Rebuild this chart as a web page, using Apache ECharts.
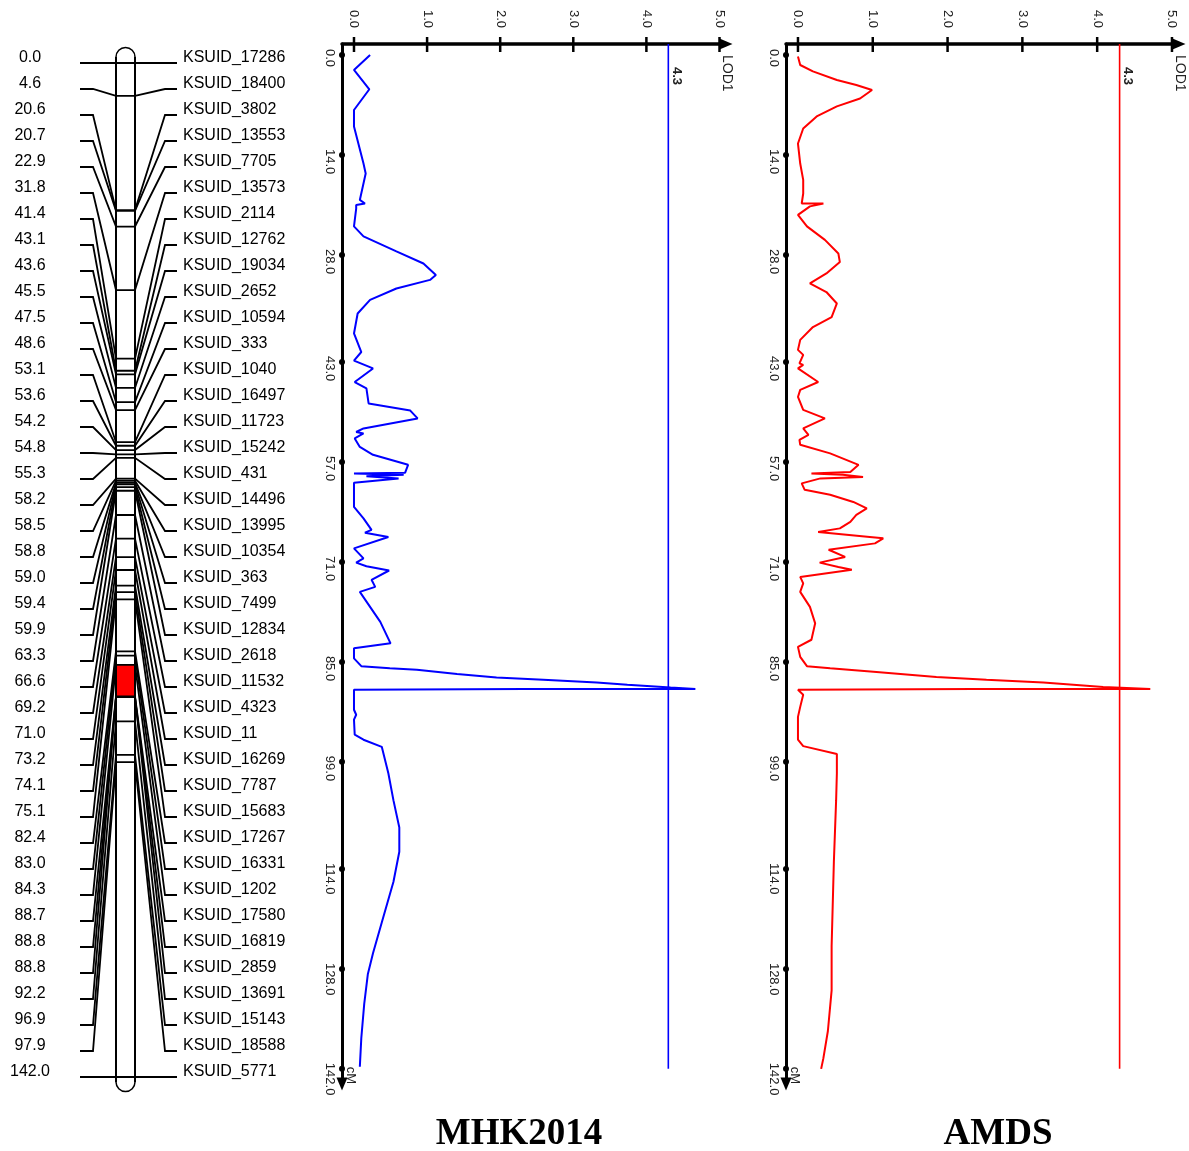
<!DOCTYPE html>
<html>
<head>
<meta charset="utf-8">
<script src="https://cdn.jsdelivr.net/npm/echarts@6/dist/echarts.min.js"></script>
<style>
html,body{margin:0;padding:0;background:#fff;}
#c{width:1189px;height:1151px;}
</style>
</head>
<body>
<div id="c"></div>
<script>
// ---------------- DATA ----------------
const markerNames = ['KSUID_17286','KSUID_18400','KSUID_3802','KSUID_13553','KSUID_7705','KSUID_13573','KSUID_2114','KSUID_12762','KSUID_19034','KSUID_2652','KSUID_10594','KSUID_333','KSUID_1040','KSUID_16497','KSUID_11723','KSUID_15242','KSUID_431','KSUID_14496','KSUID_13995','KSUID_10354','KSUID_363','KSUID_7499','KSUID_12834','KSUID_2618','KSUID_11532','KSUID_4323','KSUID_11','KSUID_16269','KSUID_7787','KSUID_15683','KSUID_17267','KSUID_16331','KSUID_1202','KSUID_17580','KSUID_16819','KSUID_2859','KSUID_13691','KSUID_15143','KSUID_18588','KSUID_5771'];
const markerPositions = [0.0,4.6,20.6,20.7,22.9,31.8,41.4,43.1,43.6,45.5,47.5,48.6,53.1,53.6,54.2,54.8,55.3,58.2,58.5,58.8,59.0,59.4,59.9,63.3,66.6,69.2,71.0,73.2,74.1,75.1,82.4,83.0,84.3,88.7,88.8,88.8,92.2,96.9,97.9,142.0];
const qtlInterval = [84.3, 88.7];
const cmTicks = [0,14,28,43,57,71,85,99,114,128,142];
const lodTicks = [0,1,2,3,4,5];
const thresholdLOD = 4.3;
const panelTitles = ['MHK2014','AMDS'];

const mhkCM = [0.0,2.1,4.8,7.7,10.0,15.2,16.6,20.3,20.8,21.0,21.5,24.0,25.4,27.5,29.2,30.8,31.5,32.7,34.3,36.2,39.0,41.6,42.8,43.9,45.8,46.7,48.8,49.8,50.9,52.3,52.8,53.0,53.7,54.9,56.0,57.4,58.5,58.6,58.8,59.0,59.3,59.9,63.3,64.9,66.5,66.9,67.5,69.1,70.5,71.1,71.6,72.2,73.5,74.5,75.2,79.4,82.4,83.1,84.5,85.6,85.9,86.1,86.7,87.2,87.5,87.9,88.2,88.6,88.8,88.8,88.9,91.7,92.4,93.1,95.2,95.9,96.9,100.6,104.4,108.2,111.6,115.8,121.5,125.8,128.7,132.9,137.7,141.7];
const mhkLOD = [0.22,0.00,0.21,0.00,0.00,0.13,0.16,0.08,0.15,0.03,0.03,0.00,0.13,0.58,0.95,1.12,1.04,0.58,0.22,0.05,0.00,0.10,0.00,0.26,0.01,0.17,0.20,0.77,0.87,0.13,0.03,0.13,0.01,0.08,0.26,0.74,0.70,0.00,0.68,0.17,0.61,0.00,0.00,0.13,0.24,0.15,0.47,0.00,0.13,0.03,0.17,0.48,0.24,0.29,0.08,0.36,0.50,0.00,0.00,0.10,0.49,0.86,1.41,1.95,2.59,3.32,3.74,4.33,4.67,2.32,0.00,0.00,0.03,0.00,0.01,0.13,0.38,0.47,0.54,0.62,0.62,0.54,0.38,0.26,0.19,0.14,0.10,0.08];

const amdsCM = [0.2,1.4,2.3,3.5,4.2,4.9,6.1,7.2,8.6,10.3,12.4,15.2,17.5,19.4,20.8,20.8,21.2,22.4,24.0,25.9,27.8,29.0,30.6,32.0,33.2,34.8,36.7,38.1,39.9,41.3,42.0,43.2,43.4,43.9,45.8,46.9,47.9,49.7,50.9,52.3,53.2,53.9,54.6,55.8,57.4,58.4,58.6,58.8,59.1,59.3,60.0,60.9,61.6,62.6,63.5,64.4,65.4,66.3,66.8,67.5,67.7,68.4,69.3,70.3,71.1,71.7,72.1,73.1,74.0,75.2,77.3,79.6,81.9,82.9,84.3,85.6,85.9,86.4,87.1,87.5,87.9,88.2,88.5,88.8,88.8,88.9,89.6,91.3,92.7,95.9,96.8,97.9,100.6,104.4,113.0,124.8,131.0,136.7,140.5,142.0];
const amdsLOD = [0.00,0.03,0.20,0.52,0.78,0.99,0.83,0.52,0.25,0.07,0.00,0.03,0.07,0.07,0.05,0.34,0.16,0.00,0.12,0.36,0.54,0.56,0.38,0.16,0.38,0.52,0.45,0.20,0.03,0.00,0.07,0.02,0.07,0.00,0.27,0.03,0.00,0.07,0.36,0.07,0.14,0.02,0.03,0.43,0.81,0.70,0.18,0.60,0.87,0.30,0.05,0.09,0.43,0.74,0.92,0.78,0.70,0.56,0.27,0.96,1.14,1.03,0.41,0.63,0.29,0.54,0.72,0.03,0.07,0.03,0.16,0.23,0.18,0.00,0.03,0.12,0.43,1.05,1.85,2.52,3.28,3.68,4.08,4.71,2.34,0.00,0.07,0.03,0.00,0.00,0.07,0.52,0.52,0.51,0.48,0.45,0.45,0.40,0.34,0.31];

// ---------------- LAYOUT ----------------
const chromLen = markerPositions[markerPositions.length - 1];
const MAP = {posX:30, lineL:80, elbowL:93, barL:116, barR:135, elbowR:165, lineR:177, nameX:183};
const PANELS = [
  {left:342, width:384, xMin:-0.164, xMax:5.089, yMin:-1.54, yMax:144.12, color:'#0000ff', titleX:519},
  {left:786, width:393, xMin:-0.160, xMax:5.094, yMin:-1.54, yMax:144.12, color:'#ff0000', titleX:998}
];
const SANS = '"Liberation Sans", Arial, sans-serif';
const F_TICK = '13px ' + SANS;
const F_MAP = '16px ' + SANS;

function txt(x, y, text, font, align, valign, rotation, fill) {
  return {type:'text', x:x, y:y, rotation: rotation || 0,
    style:{text:text, font:font, fill: fill || '#000', align:align, verticalAlign:valign, textAlign:align, textVerticalAlign:valign}};
}

const grids = [{left:0, top:63, width:300, height:1014}];
const xAxes = [{gridIndex:0, type:'value', min:0, max:300, show:false}];
const yAxes = [{gridIndex:0, type:'value', min:0, max:chromLen, inverse:true, show:false}];
const series = [];

// chromosome body
series.push({
  type:'custom', xAxisIndex:0, yAxisIndex:0, silent:true, clip:false, z:1,
  data:[[0,0]],
  renderItem:function(params, api){
    const t = api.coord([MAP.barL, 0]);
    const b = api.coord([MAP.barR, chromLen]);
    const q0 = api.coord([MAP.barL, qtlInterval[0]]);
    const q1 = api.coord([MAP.barR, qtlInterval[1]]);
    const cx = (t[0] + b[0]) / 2, r = (b[0] - t[0]) / 2;
    const capT = t[1] - 6, capB = b[1] + 5;
    const ls = {stroke:'#000', lineWidth:2, fill:null};
    return {type:'group', children:[
      {type:'rect', shape:{x:q0[0], y:q0[1], width:q1[0]-q0[0], height:q1[1]-q0[1]}, style:{fill:'#ff0000'}},
      {type:'line', shape:{x1:t[0], y1:capT, x2:t[0], y2:capB}, style:ls},
      {type:'line', shape:{x1:b[0], y1:capT, x2:b[0], y2:capB}, style:ls},
      {type:'arc', shape:{cx:cx, cy:capT, r:r, startAngle:Math.PI, endAngle:2*Math.PI, clockwise:true}, style:{stroke:'#000', lineWidth:1.5, fill:null}},
      {type:'arc', shape:{cx:cx, cy:capB, r:r, startAngle:0, endAngle:Math.PI, clockwise:true}, style:{stroke:'#000', lineWidth:1.5, fill:null}}
    ]};
  }
});

// markers with connectors and labels
const nM = markerPositions.length;
series.push({
  type:'custom', xAxisIndex:0, yAxisIndex:0, silent:true, clip:false, z:2,
  data: markerPositions.map(function(cm, i){ return [cm, i * chromLen / (nM - 1), i]; }),
  renderItem:function(params, api){
    const cm = api.value(0), row = api.value(1), i = api.value(2);
    const p = function(x, y){ return api.coord([x, y]); };
    const pts = [p(MAP.lineL,row), p(MAP.elbowL,row), p(MAP.barL,cm), p(MAP.barR,cm), p(MAP.elbowR,row), p(MAP.lineR,row)];
    const rp = p(MAP.posX,row), np = p(MAP.nameX,row);
    return {type:'group', children:[
      {type:'polyline', shape:{points:pts}, style:{stroke:'#000', lineWidth:1.8, fill:null}},
      txt(rp[0], rp[1]-5, markerPositions[i].toFixed(1), F_MAP, 'center', 'middle'),
      txt(np[0], np[1]-5, markerNames[i], F_MAP, 'left', 'middle')
    ]};
  }
});

const profiles = [[mhkCM, mhkLOD], [amdsCM, amdsLOD]];
PANELS.forEach(function(P, pi){
  const g = pi + 1;
  grids.push({left:P.left, top:44, width:P.width, height:1040});
  xAxes.push({gridIndex:g, type:'value', min:P.xMin, max:P.xMax, position:'top',
    axisLine:{show:true, onZero:false, lineStyle:{color:'#000', width:3.5}, symbol:['none','triangle'], symbolSize:[11,13]},
    axisTick:{show:false}, axisLabel:{show:false}, splitLine:{show:false}});
  yAxes.push({gridIndex:g, type:'value', min:P.yMin, max:P.yMax, inverse:true, position:'left',
    axisLine:{show:true, onZero:false, lineStyle:{color:'#000', width:3}, symbol:['triangle','none'], symbolSize:[11,13]},
    axisTick:{show:false}, axisLabel:{show:false}, splitLine:{show:false}});
  const base = {xAxisIndex:g, yAxisIndex:g, silent:true};
  const cms = profiles[pi][0], lods = profiles[pi][1];
  series.push(Object.assign({type:'line', data: cms.map(function(c, i){ return [lods[i], c]; }),
    symbol:'none', showSymbol:false, lineStyle:{color:P.color, width:2}, z:4}, base));
  series.push(Object.assign({type:'line', data:[[thresholdLOD, P.yMin],[thresholdLOD, cmTicks[cmTicks.length-1]]],
    symbol:'none', showSymbol:false, lineStyle:{color:P.color, width:1.6}, z:3}, base));
  // x ticks + labels
  series.push(Object.assign({type:'custom', clip:false, z:5, data: lodTicks.map(function(v){ return [v, P.yMin]; }),
    renderItem:function(params, api){
      const c = api.coord([api.value(0), api.value(1)]);
      return {type:'group', children:[
        {type:'line', shape:{x1:c[0], y1:c[1]-7, x2:c[0], y2:c[1]+8}, style:{stroke:'#000', lineWidth:2.5}},
        txt(c[0], c[1]-16, api.value(0).toFixed(1), F_TICK, 'right', 'middle', -Math.PI/2, '#222')
      ]};
    }}, base));
  // y ticks + labels
  series.push(Object.assign({type:'custom', clip:false, z:5, data: cmTicks.map(function(v){ return [P.xMin, v]; }),
    renderItem:function(params, api){
      const c = api.coord([api.value(0), api.value(1)]);
      return {type:'group', children:[
        {type:'circle', shape:{cx:c[0], cy:c[1], r:3}, style:{fill:'#000'}},
        txt(c[0]-12, c[1]-6, api.value(1).toFixed(1), F_TICK, 'left', 'middle', -Math.PI/2, '#222')
      ]};
    }}, base));
  // axis names and threshold value
  series.push(Object.assign({type:'custom', clip:false, z:5, data:[[0,0]],
    renderItem:function(params, api){
      const e = api.coord([P.xMax, P.yMin]);
      const cmEnd = api.coord([P.xMin, cmTicks[cmTicks.length-1]]);
      const th = api.coord([thresholdLOD, P.yMin]);
      return {type:'group', children:[
        txt(e[0]+1, e[1]+11, 'LOD1', '14px ' + SANS, 'left', 'middle', -Math.PI/2, '#222'),
        txt(cmEnd[0]+9, cmEnd[1]-2, 'cM', '13px ' + SANS, 'left', 'middle', -Math.PI/2, '#222'),
        txt(th[0]+8, th[1]+23, thresholdLOD.toFixed(1), 'bold 13px ' + SANS, 'left', 'middle', -Math.PI/2, '#222')
      ]};
    }}, base));
});

const option = {
  backgroundColor:'#ffffff',
  animation:false,
  grid: grids, xAxis: xAxes, yAxis: yAxes, series: series,
  graphic: PANELS.map(function(P, i){
    return {type:'text', x:P.titleX, y:1134, silent:true,
      style:{text:panelTitles[i], font:'bold 37px "Liberation Serif", "Times New Roman", serif', fill:'#000',
        align:'center', verticalAlign:'middle', textAlign:'center', textVerticalAlign:'middle'}};
  })
};
const chart = echarts.init(document.getElementById('c'));
chart.setOption(option);
</script>
</body>
</html>
